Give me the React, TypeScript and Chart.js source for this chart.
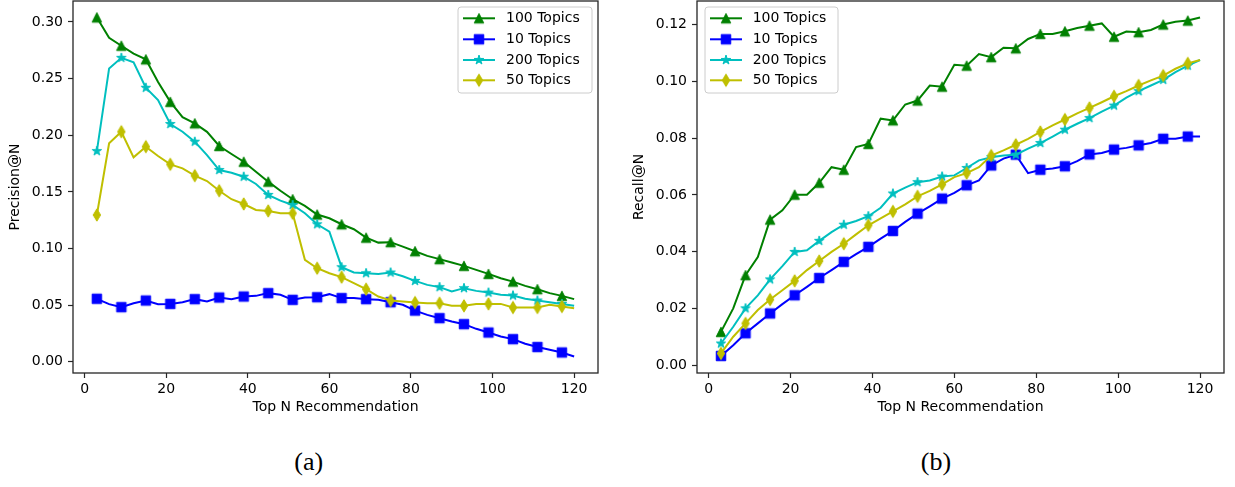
import React, { useEffect, useRef } from 'react';
import { Chart, registerables } from 'chart.js';

Chart.register(...registerables);

// ---------------- data ----------------
const topN = [3, 6, 9, 12, 15, 18, 21, 24, 27, 30, 33, 36, 39, 42, 45, 48, 51, 54, 57, 60, 63, 66, 69, 72, 75, 78, 81, 84, 87, 90, 93, 96, 99, 102, 105, 108, 111, 114, 117, 120];

const seriesNames = ['100 Topics', '10 Topics', '200 Topics', '50 Topics'];

const precision100 = [0.304, 0.286, 0.279, 0.272, 0.267, 0.247, 0.2295, 0.216, 0.2105, 0.203, 0.1905, 0.1834, 0.1766, 0.1678, 0.159, 0.151, 0.1435, 0.1376, 0.130, 0.1267, 0.1214, 0.117, 0.1096, 0.1052, 0.1056, 0.1017, 0.0976, 0.0935, 0.0906, 0.0876, 0.0847, 0.0811, 0.0776, 0.0738, 0.0708, 0.067, 0.0641, 0.0606, 0.0582, 0.0553];
const precision10 = [0.0556, 0.0509, 0.0482, 0.0517, 0.0541, 0.0509, 0.0511, 0.0526, 0.0553, 0.0532, 0.0567, 0.0553, 0.0576, 0.0582, 0.0606, 0.0591, 0.0547, 0.0567, 0.057, 0.0597, 0.0562, 0.0562, 0.0553, 0.0547, 0.0526, 0.0503, 0.0452, 0.0414, 0.0385, 0.0355, 0.0332, 0.0291, 0.0258, 0.0223, 0.02, 0.0159, 0.013, 0.0106, 0.0082, 0.0047];
const precision200 = [0.186, 0.259, 0.2683, 0.2643, 0.2419, 0.231, 0.2099, 0.2031, 0.1943, 0.1825, 0.1693, 0.1669, 0.1634, 0.157, 0.1473, 0.1423, 0.1384, 0.1311, 0.1214, 0.1149, 0.0835, 0.0788, 0.0782, 0.0776, 0.0788, 0.0755, 0.0714, 0.0679, 0.0659, 0.062, 0.065, 0.0626, 0.0611, 0.0591, 0.0585, 0.0556, 0.0541, 0.0526, 0.0511, 0.0494];
const precision50 = [0.1296, 0.1929, 0.2031, 0.1805, 0.1899, 0.1817, 0.1743, 0.1708, 0.1643, 0.1596, 0.151, 0.1435, 0.1393, 0.134, 0.1332, 0.1311, 0.1311, 0.09, 0.0826, 0.0782, 0.0747, 0.0694, 0.0641, 0.0576, 0.0541, 0.0532, 0.0523, 0.0517, 0.0517, 0.0494, 0.0494, 0.0511, 0.0511, 0.0511, 0.0479, 0.0479, 0.0479, 0.0503, 0.0488, 0.0473];

const recall100 = [0.0117, 0.02, 0.0317, 0.0381, 0.0513, 0.0546, 0.0601, 0.0601, 0.0643, 0.0698, 0.0689, 0.0769, 0.078, 0.0869, 0.0863, 0.0919, 0.0933, 0.0986, 0.0982, 0.1059, 0.1056, 0.1097, 0.1086, 0.1119, 0.1117, 0.115, 0.1168, 0.1168, 0.1177, 0.1189, 0.1197, 0.1205, 0.1158, 0.1176, 0.1174, 0.1182, 0.1201, 0.1211, 0.1215, 0.1226];
const recall10 = [0.0032, 0.007, 0.0112, 0.0147, 0.0182, 0.0215, 0.0246, 0.0276, 0.0307, 0.0335, 0.0364, 0.0391, 0.0417, 0.0446, 0.0473, 0.0505, 0.0534, 0.056, 0.0587, 0.0607, 0.0634, 0.0651, 0.0704, 0.0728, 0.0742, 0.0677, 0.0689, 0.0693, 0.0701, 0.0719, 0.0743, 0.0748, 0.076, 0.0766, 0.0775, 0.0783, 0.0798, 0.0798, 0.0806, 0.0806];
const recall200 = [0.0076, 0.0135, 0.02, 0.0246, 0.0302, 0.0349, 0.0399, 0.0405, 0.0438, 0.0469, 0.0495, 0.0508, 0.0525, 0.0555, 0.0605, 0.0626, 0.0645, 0.0651, 0.0665, 0.0669, 0.0695, 0.0722, 0.0733, 0.0739, 0.0742, 0.0763, 0.0783, 0.0806, 0.083, 0.0851, 0.0871, 0.0894, 0.0915, 0.0943, 0.0966, 0.0986, 0.1006, 0.1033, 0.1056, 0.1076];
const recall50 = [0.0041, 0.01, 0.0147, 0.0194, 0.0231, 0.0264, 0.0297, 0.0335, 0.0367, 0.0399, 0.0428, 0.0461, 0.0493, 0.0517, 0.0542, 0.0567, 0.0595, 0.0614, 0.0637, 0.0663, 0.0677, 0.0698, 0.0739, 0.0757, 0.0777, 0.0798, 0.0822, 0.0845, 0.0866, 0.0888, 0.0907, 0.0927, 0.0948, 0.0966, 0.0986, 0.1004, 0.1021, 0.1045, 0.1064, 0.1076];

const xTicks = [0, 20, 40, 60, 80, 100, 120];
const precisionTicks = [0.0, 0.05, 0.1, 0.15, 0.2, 0.25, 0.3];
const recallTicks = [0.0, 0.02, 0.04, 0.06, 0.08, 0.1, 0.12];

// ---------------- styles ----------------
const COLORS = ['#008000', '#0000ff', '#00bfbf', '#bfbf00'];
const SHAPES = ['triangle', 'square', 'star', 'thinDiamond'];
const FONT = 'DejaVu Sans';

function makeMarker(shape: string, color: string): HTMLCanvasElement {
  const c = document.createElement('canvas');
  c.width = 16;
  c.height = 16;
  const g = c.getContext('2d')!;
  g.translate(8, 8);
  g.fillStyle = color;
  g.strokeStyle = color;
  g.lineWidth = 1;
  g.beginPath();
  if (shape === 'triangle') {
    const r = 4.75;
    g.moveTo(0, -r);
    g.lineTo(-r, r);
    g.lineTo(r, r);
    g.closePath();
  } else if (shape === 'square') {
    const r = 4.75;
    g.rect(-r, -r, 2 * r, 2 * r);
  } else if (shape === 'thinDiamond') {
    g.moveTo(0, -6.2);
    g.lineTo(3.7, 0);
    g.lineTo(0, 6.2);
    g.lineTo(-3.7, 0);
    g.closePath();
  } else {
    for (let i = 0; i < 10; i++) {
      const r = i % 2 === 0 ? 5 : 1.9;
      const a = -Math.PI / 2 + (i * Math.PI) / 5;
      const x = r * Math.cos(a);
      const y = r * Math.sin(a);
      if (i === 0) g.moveTo(x, y);
      else g.lineTo(x, y);
    }
    g.closePath();
  }
  g.fill();
  g.stroke();
  return c;
}

const framePlugin = {
  id: 'frame',
  afterDatasetsDraw(chart: any) {
    const { ctx, chartArea: a } = chart;
    ctx.save();
    ctx.strokeStyle = '#262626';
    ctx.lineWidth = 1.3;
    ctx.strokeRect(a.left, a.top, a.right - a.left, a.bottom - a.top);
    ctx.restore();
  },
};

const legendPlugin = {
  id: 'boxLegend',
  afterDraw(chart: any, _args: any, opts: any) {
    const { ctx } = chart;
    const { box, handle, textX, rowY, markers } = opts;
    ctx.save();
    const [bx, by, bw, bh] = box;
    const r = 3;
    ctx.beginPath();
    ctx.moveTo(bx + r, by);
    ctx.lineTo(bx + bw - r, by);
    ctx.quadraticCurveTo(bx + bw, by, bx + bw, by + r);
    ctx.lineTo(bx + bw, by + bh - r);
    ctx.quadraticCurveTo(bx + bw, by + bh, bx + bw - r, by + bh);
    ctx.lineTo(bx + r, by + bh);
    ctx.quadraticCurveTo(bx, by + bh, bx, by + bh - r);
    ctx.lineTo(bx, by + r);
    ctx.quadraticCurveTo(bx, by, bx + r, by);
    ctx.closePath();
    ctx.fillStyle = 'rgba(255,255,255,0.8)';
    ctx.fill();
    ctx.strokeStyle = '#cccccc';
    ctx.lineWidth = 1;
    ctx.stroke();
    seriesNames.forEach((name, i) => {
      const y = rowY[i];
      ctx.strokeStyle = COLORS[i];
      ctx.lineWidth = 2;
      ctx.beginPath();
      ctx.moveTo(handle[0], y);
      ctx.lineTo(handle[1], y);
      ctx.stroke();
      const m = markers[i];
      ctx.drawImage(m, (handle[0] + handle[1]) / 2 - m.width / 2, y - m.height / 2);
      ctx.fillStyle = '#000';
      ctx.font = `14px "${FONT}"`;
      ctx.textAlign = 'left';
      ctx.textBaseline = 'middle';
      ctx.fillText(name, textX, y);
    });
    ctx.restore();
  },
};

function buildConfig(p: {
  series: number[][];
  yMin: number;
  yMax: number;
  yTicks: number[];
  yTitle: string;
  yWidth: number;
  yTitlePad: number;
  padRight: number;
  legend: any;
  markers: HTMLCanvasElement[];
}): any {
  const order = [3, 2, 1, 0];
  const datasets = p.series.map((vals, i) => ({
    label: seriesNames[i],
    data: topN.map((x, j) => ({ x, y: vals[j] })),
    borderColor: COLORS[i],
    backgroundColor: COLORS[i],
    borderWidth: 2,
    tension: 0,
    fill: false,
    order: order[i],
    pointStyle: p.markers[i],
    pointRadius: (ctx: any) => (ctx.dataIndex % 2 === 0 ? 5 : 0),
    pointHoverRadius: (ctx: any) => (ctx.dataIndex % 2 === 0 ? 5 : 0),
  }));
  return {
    type: 'line',
    data: { datasets },
    options: {
      animation: false,
      responsive: false,
      devicePixelRatio: 1,
      events: [],
      layout: { autoPadding: false, padding: { left: 0, top: 1, right: p.padRight, bottom: 0 } },
      plugins: {
        legend: { display: false },
        tooltip: { enabled: false },
        boxLegend: { ...p.legend, markers: p.markers },
      },
      scales: {
        x: {
          type: 'linear',
          min: -2.85,
          max: 125.85,
          afterBuildTicks: (s: any) => {
            s.ticks = xTicks.map((v) => ({ value: v }));
          },
          afterFit: (s: any) => {
            s.height = 57;
            s.paddingLeft = 0;
            s.paddingRight = 0;
            s.paddingTop = 0;
            s.paddingBottom = 0;
          },
          ticks: {
            autoSkip: false,
            maxRotation: 0,
            padding: 3,
            color: '#000',
            font: { family: FONT, size: 14 },
            callback: (v: any) => String(v),
          },
          grid: {
            drawOnChartArea: false,
            drawTicks: true,
            tickLength: 5,
            tickColor: '#262626',
            tickWidth: 1.2,
          },
          border: { display: false },
          title: {
            display: true,
            text: 'Top N Recommendation',
            color: '#000',
            font: { family: FONT, size: 14 },
            padding: { top: 0, bottom: 14.6 },
          },
        },
        y: {
          type: 'linear',
          min: p.yMin,
          max: p.yMax,
          afterBuildTicks: (s: any) => {
            s.ticks = p.yTicks.map((v) => ({ value: v }));
          },
          afterFit: (s: any) => {
            s.width = p.yWidth;
            s.paddingLeft = 0;
            s.paddingRight = 0;
            s.paddingTop = 0;
            s.paddingBottom = 0;
          },
          ticks: {
            autoSkip: false,
            padding: 5,
            color: '#000',
            font: { family: FONT, size: 14 },
            callback: (v: any) => Number(v).toFixed(2),
          },
          grid: {
            drawOnChartArea: false,
            drawTicks: true,
            tickLength: 5,
            tickColor: '#262626',
            tickWidth: 1.2,
          },
          border: { display: false },
          title: {
            display: true,
            text: p.yTitle,
            color: '#000',
            font: { family: FONT, size: 14 },
            padding: { top: p.yTitlePad, bottom: 0 },
          },
        },
      },
    },
    plugins: [framePlugin, legendPlugin],
  };
}

const captionStyle: React.CSSProperties = {
  position: 'absolute',
  top: 447,
  width: 100,
  textAlign: 'center',
  fontFamily: '"Liberation Serif", serif',
  fontSize: 26,
  lineHeight: '30px',
  color: '#000',
};

export default function App() {
  const refA = useRef<HTMLCanvasElement>(null);
  const refB = useRef<HTMLCanvasElement>(null);

  useEffect(() => {
    const markers = SHAPES.map((s, i) => makeMarker(s, COLORS[i]));
    const rows = [18.3, 39.3, 60, 80.3];
    const a = new Chart(
      refA.current!,
      buildConfig({
        series: [precision100, precision10, precision200, precision50],
        yMin: -0.0099,
        yMax: 0.3185,
        yTicks: precisionTicks,
        yTitle: 'Precision@N',
        yWidth: 73,
        yTitlePad: 7,
        padRight: 22,
        legend: { box: [458, 7, 134, 86], handle: [463, 495], textX: 506, rowY: rows },
        markers,
      })
    );
    const b = new Chart(
      refB.current!,
      buildConfig({
        series: [recall100, recall10, recall200, recall50],
        yMin: -0.0028,
        yMax: 0.1284,
        yTicks: recallTicks,
        yTitle: 'Recall@N',
        yWidth: 77,
        yTitlePad: 10.6,
        padRight: 11,
        legend: { box: [85, 7, 133, 86], handle: [90, 122], textX: 132.7, rowY: rows },
        markers,
      })
    );
    return () => {
      a.destroy();
      b.destroy();
    };
  }, []);

  return (
    <div style={{ position: 'fixed', left: 0, top: 0, width: 1235, height: 487, background: '#fff', overflow: 'hidden' }}>
      <canvas ref={refA} width={620} height={430} style={{ position: 'absolute', left: 0, top: 0, width: 620, height: 430 }} />
      <canvas ref={refB} width={615} height={430} style={{ position: 'absolute', left: 620, top: 0, width: 615, height: 430 }} />
      <div style={{ ...captionStyle, left: 258.7 }}>(a)</div>
      <div style={{ ...captionStyle, left: 886 }}>(b)</div>
    </div>
  );
}
